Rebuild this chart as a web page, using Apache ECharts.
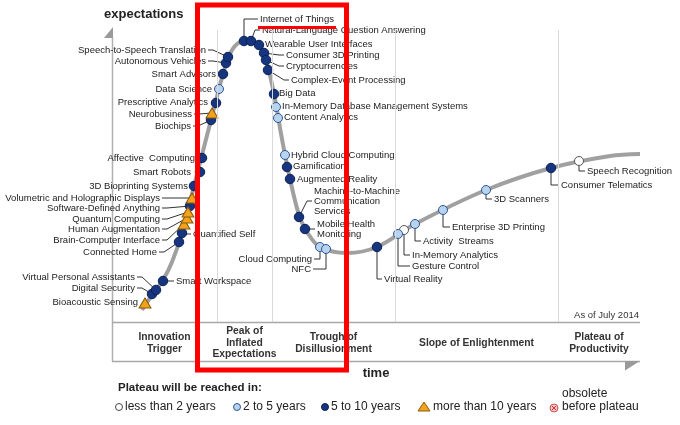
<!DOCTYPE html>
<html><head><meta charset="utf-8">
<script src="https://cdn.jsdelivr.net/npm/echarts@6/dist/echarts.min.js"></script>
<style>html,body{margin:0;padding:0;background:#fff}#c{width:680px;height:425px}</style>
</head><body><div id="c"></div>
<script>
// ---- data (time position, expectation level, plateau class) ----
const techNames = ['Bioacoustic Sensing','Digital Security','Virtual Personal Assistants','Smart Workspace','Connected Home','Quantified Self','Brain-Computer Interface','Human Augmentation','Quantum Computing','Software-Defined Anything','Volumetric and Holographic Displays','3D Bioprinting Systems','Smart Robots','Affective  Computing','Biochips','Neurobusiness','Prescriptive Analytics','Data Science','Smart Advisors','Autonomous Vehicles','Speech-to-Speech Translation','Internet of Things','Natural-Language Question Answering','Wearable User Interfaces','Consumer 3D Printing','Cryptocurrencies','Complex-Event Processing','Big Data','In-Memory Database Management Systems','Content Analytics','Hybrid Cloud Computing','Gamification','Augmented Reality','Machine-to-Machine\nCommunication\nServices','Mobile Health\nMonitoring','Cloud Computing','NFC','Virtual Reality','Gesture Control','In-Memory Analytics','Activity  Streams','Enterprise 3D Printing','3D Scanners','Consumer Telematics','Speech Recognition'];
const timePos =     [33,40,44,51,67,70,72,75,76,78,80,82,88,90,99,100,104,107,111,114,116,132,139,147,152,154,156,162,164,166,173,175,178,187,193,208,214,265,286,292,303,331,374,439,467];
const expectation = [58,67,71,80,119,128,137,143,149,155,163,175,189,203,241,248,258,272,287,298,304,320,320,316,308,301,291,267,254,243,206,194,182,144,132,114,112,114,127,131,137,151,171,193,200];
// 0: less than 2 years, 1: 2 to 5 years, 2: 5 to 10 years, 3: more than 10 years
const plateauClass = [3,2,2,2,2,2,3,3,3,2,3,2,2,2,2,3,2,1,2,2,2,2,2,2,2,2,2,2,1,1,1,2,2,2,2,1,1,2,1,0,1,1,1,2,0];
// hype curve path
const curveTime =   [30,40,51,60,70,82,99,111,118,125,135,141,147,154,162,170,178,187,195,208,235,265,303,374,439,498,528];
const curveExpect = [51,66,81,99,128,175,241,287,307,317,321,320,316,301,267,222,182,146,129,114,108,114,137,171,193,205,207];
const phaseNames = ['Innovation\nTrigger','Peak of\nInflated\nExpectations','Trough of\nDisillusionment','Slope of Enlightenment','Plateau of\nProductivity'];
const phaseBounds = [0,105,160,283,446,528];
const legendLabels = ['less than 2 years','2 to 5 years','5 to 10 years','more than 10 years','obsolete\nbefore plateau'];

// ---- label layout (pixel offsets from marker; align; leader type) ----
const labelPlacement = [
 [-7,-1,'r','n'],[-17,-6,'r','h'],[-21,-13,'r','h'],[13,0,'l','h'],[-22,10,'r','h'],[11,1,'l','h'],
 [-24,16,'r','h'],[-27,11,'r','h'],[-28,7,'r','h'],[-30,2,'r','h'],[-32,0,'r','h'],[-6,0,'r','n'],
 [-9,0,'r','n'],[-7,0,'r','n'],[-20,6,'r','h'],[-20,1,'r','h'],[-8,-1,'r','n'],[-7,0,'r','n'],
 [-7,0,'r','n'],[-20,-2,'r','h'],[-22,-7,'r','h'],[16,-22,'l','v'],[11,-11,'l','h'],[6,-1,'l','n'],
 [22,2,'l','h'],[20,6,'l','h'],[23,10,'l','h'],[5,-1,'l','n'],[6,-1,'l','n'],[6,-1,'l','n'],
 [6,0,'l','n'],[6,-1,'l','n'],[7,0,'l','n'],[15,-16,'l','h'],[12,0,'l','h'],[-8,12,'r','v'],
 [-15,20,'r','v'],[7,32,'l','v'],[14,32,'l','v'],[8,25,'l','v'],[8,17,'l','v'],[9,17,'l','v'],
 [8,9,'l','v'],[10,17,'l','v'],[8,10,'l','v']
];
const FONT = '"Liberation Sans", Arial, sans-serif';
const classStyle = [
  {symbol:'circle', size:9, color:'#ffffff', border:'#555555'},
  {symbol:'circle', size:9, color:'#b7d3ee', border:'#2f5596'},
  {symbol:'circle', size:9.5, color:'#17357f', border:'#0a1f55'},
  {symbol:'triangle', size:[12,10], color:'#f2a21c', border:'#8a5a08'}
];

const chart = echarts.init(document.getElementById('c'), null, {renderer:'canvas'});

function renderLabel(params, api) {
  const i = params.dataIndex;
  const p = api.coord([api.value(0), api.value(1)]);
  const L = labelPlacement[i];
  const tx = p[0] + L[0], ty = p[1] + L[1];
  const right = L[2] === 'r';
  const children = [];
  let pts = null;
  if (L[3] === 'h') {
    const s = right ? 1 : -1;
    pts = [[tx + 2*s, ty], [tx + 7*s, ty], p];
  } else if (L[3] === 'v') {
    pts = [p, [p[0], ty], [tx + (right ? 2 : -2), ty]];
  }
  if (pts) children.push({type:'polyline', shape:{points:pts}, style:{stroke:'#333', lineWidth:1, fill:null}});
  children.push({type:'text', x:tx, y:ty, style:{text:techNames[i], align: right?'right':'left', verticalAlign:'middle',
    fontSize:9.5, fontFamily:FONT, fill:'#222', lineHeight:10}});
  return {type:'group', children};
}

const series = [{
  type:'line', data: curveTime.map((t,i)=>[t, curveExpect[i]]), smooth:0.35,
  showSymbol:false, silent:true, z:1,
  lineStyle:{color:'#a0a0a0', width:4},
  markLine:{silent:true, symbol:['none','none'], label:{show:false},
    lineStyle:{color:'#d9d9d9', width:1, type:'solid'},
    data: phaseBounds.slice(1,-1).map(v=>({xAxis:v}))}
},{
  type:'custom', renderItem: renderLabel, clip:false, z:2, silent:true,
  data: timePos.map((t,i)=>[t, expectation[i]]), encode:{x:0,y:1}
}];
classStyle.forEach((st, c) => {
  series.push({
    type:'scatter', z:3, silent:true, symbol:st.symbol, symbolSize:st.size,
    itemStyle:{color:st.color, borderColor:st.border, borderWidth:1, opacity:1},
    data: timePos.map((t,i)=>[t, expectation[i], i]).filter(d => plateauClass[d[2]] === c)
  });
});

chart.setOption({
  animation:false,
  grid:{left:112, right:40, top:30, bottom:103},
  xAxis:{type:'value', min:0, max:528, show:false},
  yAxis:{type:'value', min:39, max:331, show:false},
  series
});

// decorations
const gray = '#9a9a9a';
const g = [];
const bx0 = chart.convertToPixel({xAxisIndex:0}, 0), bx1 = chart.convertToPixel({xAxisIndex:0}, 528);
g.push({type:'line', shape:{x1:bx0+0.5, y1:37, x2:bx0+0.5, y2:361}, style:{stroke:'#b0b0b0', lineWidth:1.5}});
g.push({type:'polygon', shape:{points:[[bx0+1,27],[bx0+1,38],[bx0-8,38]]}, style:{fill:gray}});
g.push({type:'line', shape:{x1:bx0, y1:322.5, x2:bx1, y2:322.5}, style:{stroke:'#a8a8a8', lineWidth:1.3}});
g.push({type:'line', shape:{x1:bx0, y1:361.5, x2:bx1, y2:361.5}, style:{stroke:'#a8a8a8', lineWidth:1.3}});
g.push({type:'polygon', shape:{points:[[bx1-15,361],[bx1,361],[bx1-15,370.5]]}, style:{fill:gray}});
phaseNames.forEach((name, i) => {
  const cx = chart.convertToPixel({xAxisIndex:0}, (phaseBounds[i]+phaseBounds[i+1])/2);
  g.push({type:'text', x:cx, y:343, style:{text:name, align:'center', verticalAlign:'middle',
    fontSize:10.3, fontWeight:'bold', fontFamily:FONT, fill:'#333', lineHeight:11.5}});
});
g.push({type:'text', x:104, y:14, style:{text:'expectations', align:'left', verticalAlign:'middle', fontSize:13, fontWeight:'bold', fontFamily:FONT, fill:'#222'}});
g.push({type:'text', x:376, y:373, style:{text:'time', align:'center', verticalAlign:'middle', fontSize:13, fontWeight:'bold', fontFamily:FONT, fill:'#222'}});
g.push({type:'text', x:639, y:315, style:{text:'As of July 2014', align:'right', verticalAlign:'middle', fontSize:9.5, fontFamily:FONT, fill:'#333'}});
// legend
g.push({type:'text', x:118, y:388, style:{text:'Plateau will be reached in:', align:'left', verticalAlign:'middle', fontSize:11.5, fontWeight:'bold', fontFamily:FONT, fill:'#222'}});
const LY = 407;
const legX = [[119,125],[237,243],[325,331],[424,433],[554,562]];
g.push({type:'circle', shape:{cx:legX[0][0], cy:LY, r:3.5}, style:{fill:'#fff', stroke:'#444', lineWidth:1}});
g.push({type:'circle', shape:{cx:legX[1][0], cy:LY, r:3.5}, style:{fill:classStyle[1].color, stroke:classStyle[1].border, lineWidth:1}});
g.push({type:'circle', shape:{cx:legX[2][0], cy:LY, r:3.5}, style:{fill:classStyle[2].color, stroke:classStyle[2].border, lineWidth:1}});
g.push({type:'polygon', shape:{points:[[legX[3][0],LY-5],[legX[3][0]+6,LY+4],[legX[3][0]-6,LY+4]]}, style:{fill:classStyle[3].color, stroke:classStyle[3].border, lineWidth:1}});
g.push({type:'circle', shape:{cx:legX[4][0], cy:LY+1, r:4}, style:{fill:'#f6c8c8', stroke:'#d65050', lineWidth:1}});
g.push({type:'line', shape:{x1:legX[4][0]-2, y1:LY-1, x2:legX[4][0]+2, y2:LY+3}, style:{stroke:'#d03030', lineWidth:1}});
g.push({type:'line', shape:{x1:legX[4][0]+2, y1:LY-1, x2:legX[4][0]-2, y2:LY+3}, style:{stroke:'#d03030', lineWidth:1}});
legendLabels.forEach((t, i) => {
  g.push({type:'text', x:legX[i][1], y: i === 4 ? LY-6.5 : LY, style:{text:t, align:'left', verticalAlign:'middle', fontSize:12, fontFamily:FONT, fill:'#222', lineHeight:13}});
});
// red highlight
g.push({type:'rect', z:100, shape:{x:197.5, y:5, width:149, height:365}, style:{fill:null, stroke:'#ff0000', lineWidth:5}});
g.push({type:'line', z:100, shape:{x1:258, y1:27.5, x2:336, y2:27.5}, style:{stroke:'#ff0000', lineWidth:3}});

chart.setOption({graphic:{elements:g}});
</script></body></html>
